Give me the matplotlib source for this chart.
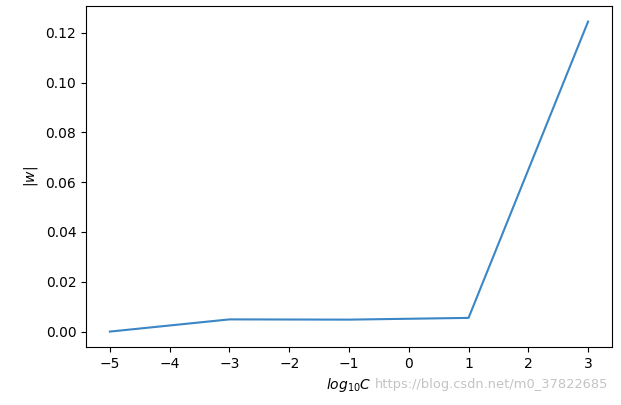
import matplotlib.pyplot as plt

# log10(C) and the norm of w
log_c = [-5, -3, -1, 1, 3]
w_norm = [0.0, 0.0049, 0.0048, 0.0055, 0.1245]

fig = plt.figure(figsize=(6.21, 4.05), dpi=100)
ax = fig.add_axes([0.1385, 0.143, 0.847, 0.842])
ax.plot(log_c, w_norm, color='#3a86c6')
ax.set_xlabel(r'$log_{10}C$')
ax.set_ylabel(r'$|w|$')

# csdn watermark, kept just right of the x label
fig.text(0.604, 0.035, 'https://blog.csdn.net/m0_37822685', ha='left', va='bottom',
         fontsize=9.4, color='#c4c4c4')

fig.savefig('out.png', dpi=100)
